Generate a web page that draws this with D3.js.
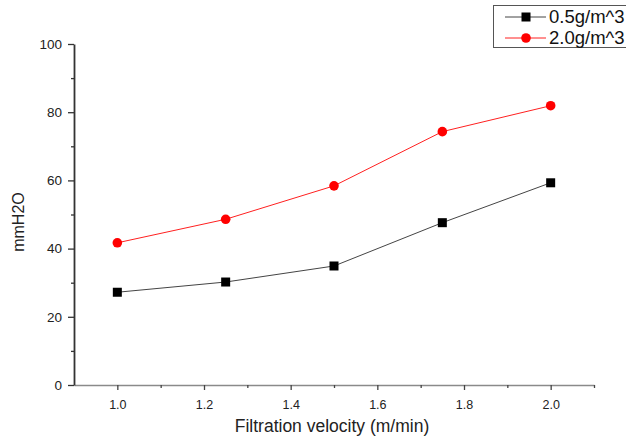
<!DOCTYPE html>
<html>
<head>
<meta charset="utf-8">
<script src="https://cdn.jsdelivr.net/npm/d3@7"></script>
<style>
  body { margin: 0; background: #fff; }
  svg { display: block; font-family: Arial, "Liberation Sans", sans-serif; }
</style>
</head>
<body>
<div id="chart"></div>
<script>
// values
var velocity = [1.0, 1.25, 1.5, 1.75, 2.0];
var low = [27.2, 30.2, 34.9, 47.6, 59.3];    // 0.5g/m^3
var high = [41.7, 48.6, 58.4, 74.3, 81.9];   // 2.0g/m^3
var seriesNames = ["0.5g/m^3", "2.0g/m^3"];
var xTicks = [1.0, 1.2, 1.4, 1.6, 1.8, 2.0];
var yTicks = [0, 20, 40, 60, 80, 100];

var width = 626, height = 438;
var plotLeft = 74, plotRight = 594, plotTop = 44, plotBottom = 385;

var svg = d3.select('#chart')
  .append('svg')
  .attr("width", width)
  .attr("height", height);

var x = d3.scaleLinear().domain([0.9, 2.1]).range([plotLeft, plotRight]);
var y = d3.scaleLinear().domain([0, 100]).range([plotBottom, plotTop]);

// x axis
var xAxis = d3.axisBottom(x)
  .tickValues(xTicks)
  .tickFormat(d3.format(".1f"))
  .tickSizeInner(5)
  .tickSizeOuter(0);
var gx = svg.append("g")
  .attr("transform", "translate(0," + plotBottom + ")")
  .call(xAxis);
gx.select(".domain").attr("stroke", "#8a8a8a").attr("stroke-width", 1.3);
gx.selectAll(".tick line").attr("stroke", "#444").attr("stroke-width", 1.3);
gx.selectAll(".tick text").attr("font-size", 12.5).attr("fill", "#222").attr("y", 12).attr("dy", "0.95em");
svg.append("g")
  .attr("transform", "translate(0," + plotBottom + ")")
  .call(d3.axisBottom(x).tickValues([1.1, 1.3, 1.5, 1.7, 1.9, 2.1]).tickSize(3).tickFormat(""))
  .call(function (g) {
    g.select(".domain").remove();
    g.selectAll(".tick line").attr("stroke", "#444").attr("stroke-width", 1.3);
  });

// y axis
var gy = svg.append("g")
  .attr("transform", "translate(" + plotLeft + ",0)")
  .call(d3.axisLeft(y).tickValues(yTicks).tickSizeInner(6).tickSizeOuter(0));
gy.select(".domain").attr("stroke", "#333").attr("stroke-width", 1.8);
gy.selectAll(".tick line").attr("stroke", "#333").attr("stroke-width", 1.3);
gy.selectAll(".tick text").attr("font-size", 13.5).attr("fill", "#222").attr("x", -12);
svg.append("g")
  .attr("transform", "translate(" + plotLeft + ",0)")
  .call(d3.axisLeft(y).tickValues([10, 30, 50, 70, 90]).tickSize(3).tickFormat(""))
  .call(function (g) {
    g.select(".domain").remove();
    g.selectAll(".tick line").attr("stroke", "#333").attr("stroke-width", 1.3);
  });

// axis titles
svg.append("text")
  .attr("x", 332)
  .attr("y", 432)
  .attr("text-anchor", "middle")
  .attr("font-size", 17.5)
  .attr("fill", "#222")
  .text("Filtration velocity (m/min)");
svg.append("text")
  .attr("transform", "translate(24,222) rotate(-90)")
  .attr("text-anchor", "middle")
  .attr("font-size", 16)
  .attr("fill", "#222")
  .text("mmH2O");

var line = d3.line()
  .x(function (d) { return x(d[0]); })
  .y(function (d) { return y(d[1]); });

var lowData = velocity.map(function (v, i) { return [v, low[i]]; });
var highData = velocity.map(function (v, i) { return [v, high[i]]; });

svg.append("path")
  .datum(lowData)
  .attr("fill", "none")
  .attr("stroke", "#444")
  .attr("stroke-width", 1)
  .attr("d", line);
svg.append("path")
  .datum(highData)
  .attr("fill", "none")
  .attr("stroke", "#ff2020")
  .attr("stroke-width", 1)
  .attr("d", line);

svg.selectAll("rect.pt")
  .data(lowData)
  .enter()
  .append("rect")
  .attr("class", "pt")
  .attr("x", function (d) { return x(d[0]) - 4.5; })
  .attr("y", function (d) { return y(d[1]) - 4.5; })
  .attr("width", 9)
  .attr("height", 9)
  .attr("fill", "#000");
svg.selectAll("circle.pt")
  .data(highData)
  .enter()
  .append("circle")
  .attr("class", "pt")
  .attr("cx", function (d) { return x(d[0]); })
  .attr("cy", function (d) { return y(d[1]); })
  .attr("r", 4.8)
  .attr("fill", "#ff0000");

// legend
var legend = svg.append("g");
legend.append("rect")
  .attr("x", 493.5)
  .attr("y", 5.5)
  .attr("width", 140)
  .attr("height", 42)
  .attr("fill", "#fff")
  .attr("stroke", "#555")
  .attr("stroke-width", 1);
seriesNames.forEach(function (name, i) {
  var ly = 17 + i * 21;
  legend.append("line")
    .attr("x1", 505).attr("x2", 546)
    .attr("y1", ly).attr("y2", ly)
    .attr("stroke", i === 0 ? "#444" : "#ff2020")
    .attr("stroke-width", 1);
  if (i === 0) {
    legend.append("rect")
      .attr("x", 521.5).attr("y", ly - 4.5)
      .attr("width", 9).attr("height", 9)
      .attr("fill", "#000");
  } else {
    legend.append("circle")
      .attr("cx", 526).attr("cy", ly)
      .attr("r", 4.8)
      .attr("fill", "#ff0000");
  }
  legend.append("text")
    .attr("x", 549)
    .attr("y", ly + 6)
    .attr("font-size", 18.5)
    .attr("fill", "#111")
    .text(name);
});
</script>
</body>
</html>
